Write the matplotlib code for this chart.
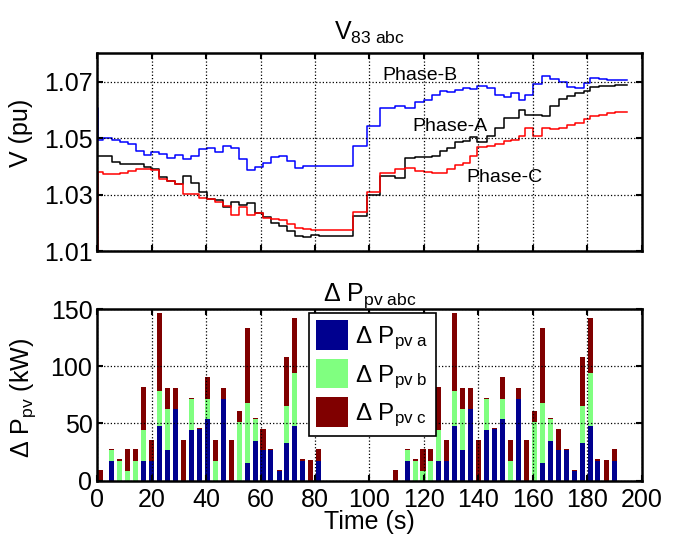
import matplotlib
matplotlib.use("Agg")
import matplotlib.pyplot as plt
import numpy as np

plt.rcParams['font.family'] = ['Liberation Sans', 'DejaVu Sans']
plt.rcParams['mathtext.fontset'] = 'custom'
plt.rcParams['mathtext.rm'] = 'Liberation Sans'
plt.rcParams['mathtext.it'] = 'Liberation Sans:italic'
plt.rcParams['mathtext.bf'] = 'Liberation Sans:bold'

# ---------------- voltage data (step series) ----------------
t_v = [0.0, 0.0, 0.3, 2.2, 5.4, 8.3, 11.2, 14.1, 17.0, 19.9, 22.8, 25.7, 28.7, 31.6,
       34.5, 37.5, 40.4, 43.3, 46.3, 49.2, 52.1, 55.1, 58.0, 60.9, 63.8, 66.8, 69.7,
       72.6, 75.5, 78.5, 81.4, 93.9, 99.0, 103.9, 109.5, 113.1, 116.8, 119.9, 123.0,
       126.0, 128.7, 131.5, 134.3, 137.0, 139.7, 143.2, 146.2, 149.3, 152.0, 154.8,
       157.2, 160.3, 163.4, 166.4, 169.5, 172.6, 175.6, 178.7, 181.2, 184.2, 187.3,
       190.3, 194.6]

v_phase_b = [1.0606, 1.0606, 1.0495,
             1.0499, 1.0493, 1.0487, 1.0480, 1.0456, 1.0440, 1.0451, 1.0443, 1.0431,
             1.0439, 1.0427, 1.0437, 1.0462, 1.0466, 1.0450, 1.0474, 1.0465, 1.0427,
             1.0389, 1.0399, 1.0413, 1.0434, 1.0436, 1.0420, 1.0396, 1.0401, 1.0400,
             1.0401,
             1.0474, 1.0542, 1.0608, 1.0613, 1.0607, 1.0628, 1.0635, 1.0653, 1.0666,
             1.0662, 1.0670, 1.0677, 1.0672, 1.0684, 1.0679, 1.0651, 1.0645, 1.0660,
             1.0636, 1.0652, 1.0690, 1.0719, 1.0710, 1.0699, 1.0682, 1.0676, 1.0694,
             1.0712, 1.0708, 1.0706, 1.0705,
             1.0705]

v_phase_a = [1.0436, 1.0436, 1.0436,
             1.0436, 1.0416, 1.0410, 1.0409, 1.0409, 1.0397, 1.0392, 1.0362, 1.0350,
             1.0338, 1.0367, 1.0343, 1.0308, 1.0284, 1.0282, 1.0255, 1.0275, 1.0265,
             1.0272, 1.0237, 1.0222, 1.0201, 1.0190, 1.0170, 1.0155, 1.0152, 1.0157,
             1.0154,
             1.0225, 1.0300, 1.0365, 1.0358, 1.0430, 1.0432, 1.0434, 1.0436, 1.0455,
             1.0466, 1.0488, 1.0490, 1.0503, 1.0486, 1.0508, 1.0537, 1.0570, 1.0572,
             1.0598, 1.0583, 1.0583, 1.0580, 1.0615, 1.0637, 1.0650, 1.0660, 1.0667,
             1.0682, 1.0686, 1.0686, 1.0687,
             1.0687]

v_phase_c = [1.0800, 1.0100, 1.0380,
             1.0372, 1.0372, 1.0378, 1.0384, 1.0390, 1.0392, 1.0386, 1.0357, 1.0349,
             1.0338, 1.0303, 1.0302, 1.0290, 1.0284, 1.0274, 1.0260, 1.0227, 1.0257,
             1.0227, 1.0234, 1.0219, 1.0213, 1.0210, 1.0198, 1.0184, 1.0180, 1.0176,
             1.0174,
             1.0240, 1.0308, 1.0378, 1.0390, 1.0395, 1.0384, 1.0380, 1.0376, 1.0378,
             1.0390, 1.0404, 1.0413, 1.0437, 1.0470, 1.0472, 1.0478, 1.0489, 1.0495,
             1.0506, 1.0536, 1.0507, 1.0536, 1.0531, 1.0536, 1.0547, 1.0553, 1.0566,
             1.0579, 1.0582, 1.0589, 1.0591,
             1.0591]

# ---------------- PV power change data (stacked bars) ----------------
t_bar = [1.2, 5.4, 8.3, 11.2, 14.1, 17.0, 19.9, 22.8, 25.7, 28.7, 31.6, 34.5, 37.5, 40.4,
         43.3, 46.3, 49.2, 52.1, 55.1, 58.0, 60.9, 63.8, 66.8, 69.7, 72.6, 75.5, 78.5, 81.4,
         109.7, 113.9, 116.8, 119.7, 122.6, 125.5, 128.4, 131.3, 134.2, 137.2, 140.1, 143.0,
         146.0, 148.9, 151.8, 154.8, 157.7, 160.6, 163.6, 166.5, 169.4, 172.3, 175.3, 178.2,
         181.1, 184.0, 187.0, 189.9]

dp_a = [0, 17.5, 0, 0, 0, 17.5, 17.3, 47.4, 27, 63, 0, 44.4, 45, 53.8,
        0, 71.3, 0, 0, 15.5, 35, 27, 27, 8.5, 33, 47.4, 17.5, 0, 17.5,
        0, 17.5, 0, 0, 0, 17.5, 17.3, 47.4, 27, 63, 0, 44.4, 45, 53.8,
        0, 71.3, 0, 0, 15.5, 35, 27, 27, 8.5, 33, 47.4, 17.5, 0, 17.5]
dp_b = [0, 9.5, 17.5, 8.5, 17.5, 27, 0, 31.3, 36, 0, 0, 26.6, 0, 17.5,
        17.3, 0, 0, 51.5, 52, 18.8, 0, 0, 0, 32, 47, 0, 0, 0,
        0, 9.5, 17.5, 8.5, 17.5, 27, 0, 31.3, 36, 0, 0, 26.6, 0, 17.5,
        17.3, 0, 0, 51.5, 52, 18.8, 0, 0, 0, 32, 47, 0, 0, 0]
dp_c = [9.4, 1, 1.2, 19, 10, 37, 18.4, 68, 18.4, 18.4, 35.7, 1.2, 0.6, 19,
        18.4, 10, 35.7, 9.3, 65.5, 1.2, 18, 0.6, 0.9, 43, 47.7, 1.2, 18.1, 10,
        9.4, 1, 1.2, 19, 10, 37, 18.4, 68, 18.4, 18.4, 35.7, 1.2, 0.6, 19,
        18.4, 10, 35.7, 9.3, 65.5, 1.2, 18, 0.6, 0.9, 43, 47.7, 1.2, 18.1, 10]

v_ticks = [1.01, 1.03, 1.05, 1.07]
p_ticks = [0, 50, 100, 150]
x_ticks = list(range(0, 201, 20))

FS = 18
fig = plt.figure(figsize=(6.75, 5.41), dpi=100)
ax1 = fig.add_axes([0.1441, 0.5355, 0.8063, 0.366])
ax2 = fig.add_axes([0.1441, 0.1115, 0.8063, 0.3173])

def style(ax):
    for s in ax.spines.values():
        s.set_linewidth(1.8)
    ax.tick_params(direction='in', length=4, width=1.5, top=True, right=True,
                   labelsize=FS, pad=3.5)
    ax.tick_params(axis='x', pad=5)
    ax.grid(True, linestyle=':', color='black', linewidth=0.9)
    ax.set_axisbelow(False)

# top: voltages
ax1.plot(t_v, v_phase_a, drawstyle='steps-post', color='black', lw=1.1)
ax1.plot(t_v, v_phase_b, drawstyle='steps-post', color='blue', lw=1.1)
ax1.plot(t_v, v_phase_c, drawstyle='steps-post', color='red', lw=1.1)
ax1.set_xlim(0, 200)
ax1.set_ylim(1.01, 1.08)
ax1.set_xticks(x_ticks)
ax1.set_xticklabels([])
ax1.set_yticks(v_ticks)
ax1.set_yticklabels(['1.01', '1.03', '1.05', '1.07'])
style(ax1)
ax1.set_ylabel('V (pu)', fontsize=FS)
ax1.yaxis.set_label_coords(-0.118, 0.6)
ax1.set_title(r'$\mathrm{V}_{\mathrm{83\ abc}}$', fontsize=FS, pad=10)
ax1.text(118.6, 1.0721, 'Phase-B', fontsize=14, ha='center', va='center')
ax1.text(129.5, 1.0541, 'Phase-A', fontsize=14, ha='center', va='center')
ax1.text(149.5, 1.0361, 'Phase-C', fontsize=14, ha='center', va='center')

# bottom: stacked bars
a = np.array(dp_a); b = np.array(dp_b); c = np.array(dp_c)
w = 1.85
ax2.bar(t_bar, a, width=w, color='#00008F', label=r'$\Delta\ \mathrm{P}_{\mathrm{pv\ a}}$')
ax2.bar(t_bar, b, width=w, bottom=a, color='#80FF80', label=r'$\Delta\ \mathrm{P}_{\mathrm{pv\ b}}$')
ax2.bar(t_bar, c, width=w, bottom=a + b, color='#800000', label=r'$\Delta\ \mathrm{P}_{\mathrm{pv\ c}}$')
ax2.set_xlim(0, 200)
ax2.set_ylim(0, 150)
ax2.set_xticks(x_ticks)
ax2.set_yticks(p_ticks)
style(ax2)
ax2.set_ylabel(r'$\Delta\ \mathrm{P}_{\mathrm{pv}}$ (kW)', fontsize=FS)
ax2.yaxis.set_label_coords(-0.108, 0.48)
ax2.set_xlabel('Time (s)', fontsize=FS, labelpad=-1)
ax2.set_title(r'$\Delta\ \mathrm{P}_{\mathrm{pv\ abc}}$', fontsize=FS, pad=6)
leg = ax2.legend(loc='upper left', bbox_to_anchor=(0.389, 0.977), fontsize=17.5,
                 frameon=True, fancybox=False, edgecolor='black', framealpha=1,
                 handlelength=1.3, handleheight=1.5, labelspacing=0.28,
                 borderpad=0.3, handletextpad=0.3, borderaxespad=0)
leg.get_frame().set_linewidth(1.2)

fig.savefig('out.png', dpi=100)
